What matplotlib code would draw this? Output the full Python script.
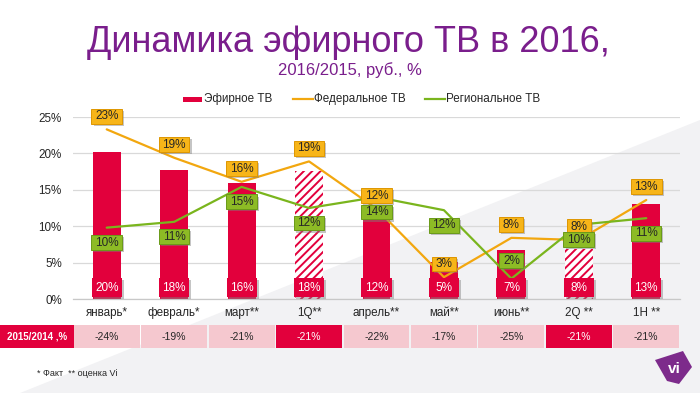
import numpy as np
import matplotlib
matplotlib.use('Agg')
import matplotlib.pyplot as plt
from matplotlib.patches import Rectangle, Polygon
from matplotlib.lines import Line2D
from matplotlib.path import Path
import matplotlib.patheffects as pe
import matplotlib.font_manager as fm
from matplotlib.transforms import blended_transform_factory

# ---------------- data ----------------
categories = ['январь*', 'февраль*', 'март**', '1Q**', 'апрель**', 'май**', 'июнь**', '2Q **', '1H **']
air_tv = [20.2, 17.7, 15.9, 17.6, 12.0, 5.1, 6.7, 6.9, 13.0]
air_tv_labels = ['20%', '18%', '16%', '18%', '12%', '5%', '7%', '8%', '13%']
air_tv_estimate = [False, False, False, True, False, False, False, True, False]
federal = [23.3, 19.4, 16.1, 18.9, 12.4, 3.0, 8.4, 8.1, 13.6]
federal_labels = ['23%', '19%', '16%', '19%', '12%', '3%', '8%', '8%', '13%']
regional = [9.8, 10.6, 15.4, 12.5, 14.0, 12.2, 2.8, 10.2, 11.1]
regional_labels = ['10%', '11%', '15%', '12%', '14%', '12%', '2%', '10%', '11%']
prev_year_header = '2015/2014 ,%'
prev_year = ['-24%', '-19%', '-21%', '-21%', '-22%', '-17%', '-25%', '-21%', '-21%']
prev_year_highlight = [False, False, False, True, False, False, False, True, False]
yticks = [0, 5, 10, 15, 20, 25]
ytick_labels = ['0%', '5%', '10%', '15%', '20%', '25%']
series_names = ['Эфирное ТВ', 'Федеральное ТВ', 'Региональное ТВ']
title = 'Динамика эфирного ТВ в 2016,'
subtitle = '2016/2015, руб., %'
footnote = '* Факт  ** оценка Vi'

# ---------------- style ----------------
RED = '#E2003C'
ORANGE = '#F2A70F'
ORANGE_BOX = '#F7B519'
GREEN = '#7AB51D'
GREEN_BOX = '#8DBB25'
PURPLE = '#7A1E8C'
PINK = '#F5C8CF'
TXT = '#262626'

names = {f.name for f in fm.fontManager.ttflist}
HAS_NARROW = 'Liberation Sans Narrow' in names
NARROW = 'Liberation Sans Narrow' if HAS_NARROW else 'Liberation Sans'
REG = 'Liberation Sans'
plt.rcParams['font.family'] = [REG, 'DejaVu Sans']
plt.rcParams['hatch.linewidth'] = 1.4

W, H = 700, 393
def F(x, y):
    return (x / W, 1 - y / H)


def box_style(padx, pady):
    def style(x0, y0, width, height, mutation_size):
        px = padx * mutation_size
        py = pady * mutation_size
        x0 -= px
        y0 -= py
        x1 = x0 + width + 2 * px
        y1 = y0 + height + 2 * py
        return Path([(x0, y0), (x1, y0), (x1, y1), (x0, y1), (x0, y0)],
                    [Path.MOVETO, Path.LINETO, Path.LINETO, Path.LINETO, Path.CLOSEPOLY])
    return style


fig = plt.figure(figsize=(7, 3.93), dpi=100)
fig.patch.set_facecolor('white')

# background diagonal shade
bg = Polygon([F(20, 393), F(700, 120), F(700, 393)], closed=True,
             transform=fig.transFigure, fc='#F2F2F4', ec='none', zorder=-10)
fig.add_artist(bg)

ax = fig.add_axes([73 / W, 1 - 299 / H, 607 / W, 182 / H])
ax.patch.set_alpha(0)
x = np.arange(len(categories))

shadow = [pe.SimplePatchShadow(offset=(1.5, -1.5), shadow_rgbFace='#808080', alpha=0.45), pe.Normal()]

# bars
bw = 0.415
for xi, v, est in zip(x, air_tv, air_tv_estimate):
    if est:
        ax.bar(xi, v, bw, color='white', edgecolor=RED, hatch='////', linewidth=0, zorder=2)
    else:
        ax.bar(xi, v, bw, color=RED, linewidth=0, zorder=2)

# lines
ax.plot(x, federal, color=ORANGE, lw=1.6, zorder=3, solid_capstyle='round')
ax.plot(x, regional, color=GREEN, lw=1.6, zorder=3, solid_capstyle='round')

# bar labels: red boxes at the foot of each bar
lbw = bw + 0.03
for xi, lab in zip(x, air_tv_labels):
    r = Rectangle((xi - lbw / 2, 0.27), lbw, 2.6, fc=RED, ec='none', zorder=6, clip_on=False)
    r.set_path_effects(shadow)
    ax.add_patch(r)
    ax.text(xi, 1.5, lab, ha='center', va='center', color='white', fontsize=8.5, zorder=7)

# federal labels (above)
for xi, v, lab in zip(x, federal, federal_labels):
    t = ax.annotate(lab, (xi, v), xytext=(0, 9.5), textcoords='offset points', ha='center', va='center',
                    fontsize=8.5, color=TXT, zorder=8, annotation_clip=False,
                    bbox=dict(boxstyle=box_style(0.3, 0.12), fc=ORANGE_BOX, ec='#DE9600', lw=0.7))
    t.get_bbox_patch().set_path_effects(shadow)

# regional labels (below, June above)
reg_off = [-10.8] * len(x)
reg_off[6] = 13
for xi, v, lab, off in zip(x, regional, regional_labels, reg_off):
    t = ax.annotate(lab, (xi, v), xytext=(0, off), textcoords='offset points', ha='center', va='center',
                    fontsize=8.5, color=TXT, zorder=8, annotation_clip=False,
                    bbox=dict(boxstyle=box_style(0.3, 0.12), fc=GREEN_BOX, ec='#6A9A18', lw=0.7))
    t.get_bbox_patch().set_path_effects(shadow)

ax.set_xlim(-0.5, len(x) - 0.5)
ax.set_ylim(0, 25)
ax.set_yticks(yticks, ytick_labels)
ax.set_xticks(x, categories)
ax.tick_params(axis='both', length=0, labelsize=8.4, labelcolor=TXT)
ax.tick_params(axis='y', pad=8)
ax.tick_params(axis='x', pad=5.5)
ax.yaxis.grid(True, color='#D9D9D9', lw=0.9)
ax.set_axisbelow(True)
for s in ['left', 'right', 'top']:
    ax.spines[s].set_visible(False)
ax.spines['bottom'].set_color('#C8C8C8')
ax.spines['bottom'].set_linewidth(0.9)

# table row
trans = blended_transform_factory(ax.transData, fig.transFigure)
ty0, ty1 = 325, 348
fig.add_artist(Rectangle(F(0, ty1), 74 / W, (ty1 - ty0) / H, transform=fig.transFigure,
                         fc=RED, ec='none'))
fig.text(37 / W, F(0, (ty0 + ty1) / 2)[1], prev_year_header, ha='center', va='center',
         color='white', fontsize=7, fontweight='bold', family=[NARROW, 'DejaVu Sans'])
for xi, lab, hl in zip(x, prev_year, prev_year_highlight):
    fig.add_artist(Rectangle((xi - 0.488, F(0, ty1)[1]), 0.976, (ty1 - ty0) / H, transform=trans,
                             fc=RED if hl else PINK, ec='none'))
    fig.text(xi, F(0, (ty0 + ty1) / 2)[1], lab, transform=trans, ha='center', va='center',
             color='white' if hl else TXT, fontsize=7.5, family=[NARROW, 'DejaVu Sans'])

# title and subtitle
fig.text(348 / W, F(0, 51.5)[1], title, ha='center', va='baseline', color=PURPLE,
         fontsize=31 if HAS_NARROW else 26, family=[NARROW, 'DejaVu Sans'])
fig.text(350 / W, F(0, 75)[1], subtitle, ha='center', va='baseline', color=PURPLE,
         fontsize=14 if HAS_NARROW else 12, family=[NARROW, 'DejaVu Sans'])

# legend
ly = 99
fig.add_artist(Rectangle(F(183, 101.7), 19 / W, 5 / H, transform=fig.transFigure, fc=RED, ec='none'))
fig.text(203.5 / W, F(0, ly)[1], series_names[0], ha='left', va='center', fontsize=8.4, color=TXT)
fig.add_artist(Line2D([293 / W, 313 / W], [F(0, ly)[1]] * 2, transform=fig.transFigure, color=ORANGE, lw=1.6))
fig.text(314 / W, F(0, ly)[1], series_names[1], ha='left', va='center', fontsize=8.4, color=TXT)
fig.add_artist(Line2D([425 / W, 445 / W], [F(0, ly)[1]] * 2, transform=fig.transFigure, color=GREEN, lw=1.6))
fig.text(446 / W, F(0, ly)[1], series_names[2], ha='left', va='center', fontsize=8.4, color=TXT)

# footnote
fig.text(37 / W, F(0, 374)[1], footnote, ha='left', va='center', fontsize=6.5, color=TXT,
         family=[NARROW, 'DejaVu Sans'])

# logo
logo = Polygon([F(655, 360), F(683, 351), F(692, 367), F(679, 384), F(667, 381)], closed=True,
               transform=fig.transFigure, fc='#7D2B8B', ec='none', zorder=5)
fig.add_artist(logo)
fig.text(674 / W, F(0, 369)[1], 'vi', ha='center', va='center', color='white', fontsize=11,
         fontweight='bold', zorder=6)

fig.savefig('out.png', dpi=100)
